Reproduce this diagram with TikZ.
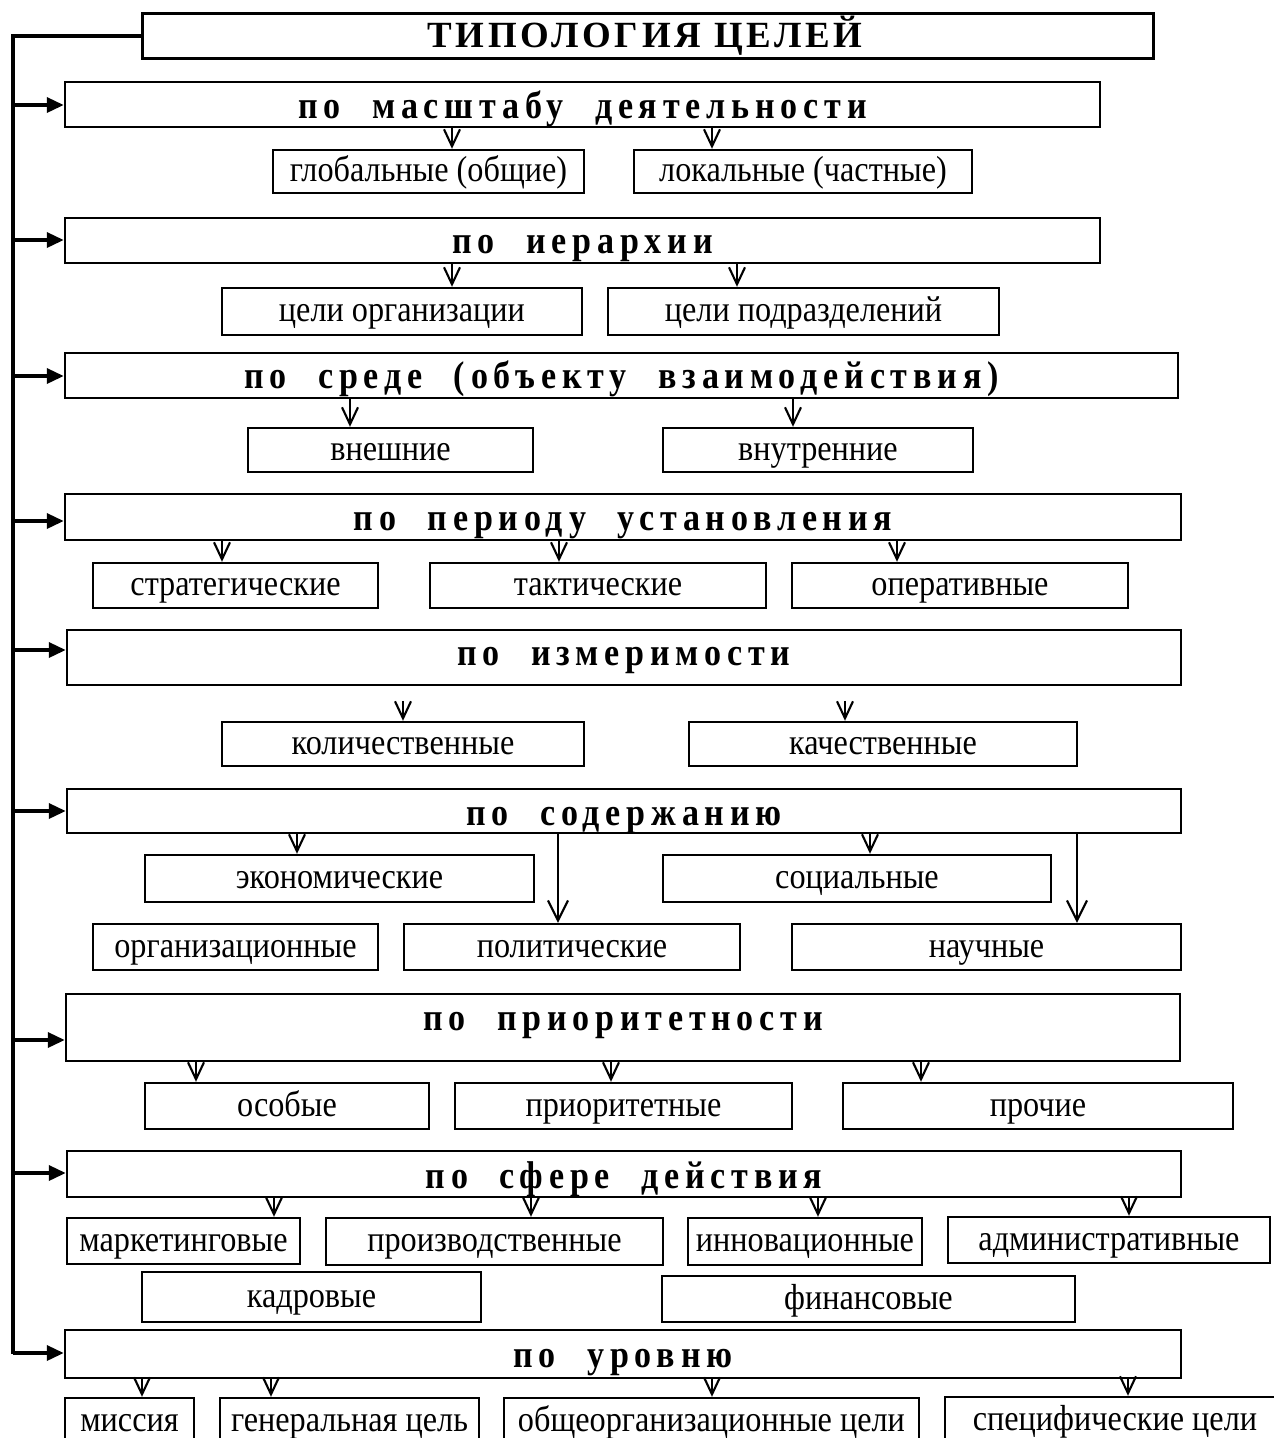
\documentclass[tikz,border=0pt]{standalone}
\usepackage{fontspec}
\setmainfont{Liberation Serif}
\newfontfamily\kidfont[FakeStretch=0.89]{Liberation Serif}
\newfontfamily\grpfont[LetterSpace=15, WordSpace=2.2, FakeStretch=0.88]{Liberation Serif}
\newfontfamily\headfont[LetterSpace=10]{Liberation Serif}
\usetikzlibrary{arrows.meta}

% one goal box: name, x1, y1, x2, y2, text
\newcommand\goalitem[6]{\node[kid, minimum width={(#4-#2)*0.01cm}, minimum height={(#5-#3)*0.01cm}] (#1) at ({(#2+#4)/2},{(#3+#5)/2}) {#6};}
% one group box: name, x1, y1, x2, y2, baseline, text
\newcommand\goalgroup[7]{\node[grp, minimum width={(#4-#2)*0.01cm}, minimum height={(#5-#3)*0.01cm}] (#1) at ({(#2+#4)/2},{(#3+#5)/2}) {};
  \node[grptext] (#1t) at ({(#2+#4)/2},#6) {#7};}
% arrow from group to goal at x
\newcommand\dn[3]{\draw[down] (#1.south -| #3,0) -- (#2.north -| #3,0);}

\tikzset{
  kid/.style={draw, line width=0.7pt, inner sep=0pt, text height=7.5pt, text depth=1.8pt, font=\kidfont\fontsize{10.3}{12}\selectfont},
  grp/.style={draw, line width=0.7pt, inner sep=0pt},
  grptext/.style={anchor=base, inner sep=0pt, font=\grpfont\fontsize{11}{13}\bfseries},
  down/.style={line width=0.6pt, -{Straight Barb[length=1.7mm,width=1.6mm]}},
  longdown/.style={line width=0.6pt, -{Straight Barb[length=2mm,width=2mm]}},
  feed/.style={line width=1pt, -{Triangle[length=1.7mm,width=1.5mm]}},
}

\begin{document}
\begin{tikzpicture}[x=0.01cm, y=-0.01cm]
		\useasboundingbox (0,0) rectangle (1274,1438);
		\clip (0,0) rectangle (1274,1438);
		
		% title
		\node[grp, minimum width=10.1cm, minimum height=0.45cm] (top) at (648,36) {};
		\node[anchor=base, inner sep=0pt, font=\headfont\fontsize{10.5}{12}\bfseries] (topt) at (645,47) {ТИПОЛОГИЯ ЦЕЛЕЙ};
		
		% groups
		\goalgroup{c1}{65}{82}{1100}{127}{118}{по масштабу деятельности}
		\goalgroup{c2}{65}{218}{1100}{263}{253}{по иерархии}
		\goalgroup{c3}{65}{353}{1178}{398}{388}{по среде (объекту взаимодействия)}
		\goalgroup{c4}{65}{494}{1181}{540}{530}{по периоду установления}
		\goalgroup{c5}{67}{630}{1181}{685}{665}{по измеримости}
		\goalgroup{c6}{67}{789}{1181}{833}{825}{по содержанию}
		\goalgroup{c7}{66}{994}{1180}{1061}{1030}{по приоритетности}
		\goalgroup{c8}{67}{1151}{1181}{1197}{1188}{по сфере действия}
		\goalgroup{c9}{65}{1330}{1181}{1378}{1367}{по уровню}
		
		% spine
		\coordinate (spine) at (13,0);
		\draw[line width=1pt] (top.west) -| (spine |- c9.west);
		\foreach \g/\y in {c1/105, c2/240, c3/376, c4/521, c5/650, c6/811, c7/1040, c8/1173, c9/1353}
		\draw[feed] (spine |- 0,\y) -- (\g.west |- 0,\y);
		
		% goals
		\goalitem{k11}{273}{150}{584}{193}{глобальные (общие)}
		\goalitem{k12}{634}{150}{972}{193}{локальные (частные)}
		\goalitem{k21}{222}{288}{582}{335}{цели организации}
		\goalitem{k22}{608}{288}{999}{335}{цели подразделений}
		\goalitem{k31}{248}{428}{533}{472}{внешние}
		\goalitem{k32}{663}{428}{973}{472}{внутренние}
		\goalitem{k41}{93}{563}{378}{608}{стратегические}
		\goalitem{k42}{430}{563}{766}{608}{тактические}
		\goalitem{k43}{792}{563}{1128}{608}{оперативные}
		\goalitem{k51}{222}{722}{584}{766}{количественные}
		\goalitem{k52}{689}{722}{1077}{766}{качественные}
		\goalitem{k61}{145}{855}{534}{902}{экономические}
		\goalitem{k62}{663}{855}{1051}{902}{социальные}
		\goalitem{k63}{93}{924}{378}{970}{организационные}
		\goalitem{k64}{404}{924}{740}{970}{политические}
		\goalitem{k65}{792}{924}{1181}{970}{научные}
		\goalitem{k71}{145}{1083}{429}{1129}{особые}
		\goalitem{k72}{455}{1083}{792}{1129}{приоритетные}
		\goalitem{k73}{843}{1083}{1233}{1129}{прочие}
		\goalitem{k81}{67}{1218}{300}{1264}{маркетинговые}
		\goalitem{k82}{326}{1218}{663}{1265}{производственные}
		\goalitem{k83}{688}{1218}{922}{1265}{инновационные}
		\goalitem{k84}{948}{1217}{1270}{1263}{административные}
		\goalitem{k85}{142}{1272}{481}{1322}{кадровые}
		\goalitem{k86}{662}{1276}{1075}{1322}{финансовые}
		\goalitem{k91}{65}{1398}{194}{1444}{миссия}
		\goalitem{k92}{220}{1398}{479}{1444}{генеральная цель}
		\goalitem{k93}{504}{1398}{919}{1444}{общеорганизационные цели}
		\goalitem{k94}{945}{1397}{1285}{1443}{специфические цели}
		
		% arrows
		\dn{c1}{k11}{452} \dn{c1}{k12}{712}
		\dn{c2}{k21}{452} \dn{c2}{k22}{737}
		\dn{c3}{k31}{350} \dn{c3}{k32}{793}
		\dn{c4}{k41}{222} \dn{c4}{k42}{559} \dn{c4}{k43}{897}
		\draw[down] (k51.north -| 403,0) ++(0,-20) -- ++(0,20);
		\draw[down] (k52.north -| 845,0) ++(0,-20) -- ++(0,20);
		\dn{c6}{k61}{297} \dn{c6}{k62}{870}
		\draw[longdown] (c6.south -| 558,0) -- (k64.north -| 558,0);
		\draw[longdown] (c6.south -| 1077,0) -- (k65.north -| 1077,0);
		\dn{c7}{k71}{196} \dn{c7}{k72}{611} \dn{c7}{k73}{921}
		\dn{c8}{k81}{274} \dn{c8}{k82}{531} \dn{c8}{k83}{818} \dn{c8}{k84}{1129}
		\dn{c9}{k91}{142} \dn{c9}{k92}{271} \dn{c9}{k93}{712} \dn{c9}{k94}{1128}
		
\end{tikzpicture}
\end{document}
